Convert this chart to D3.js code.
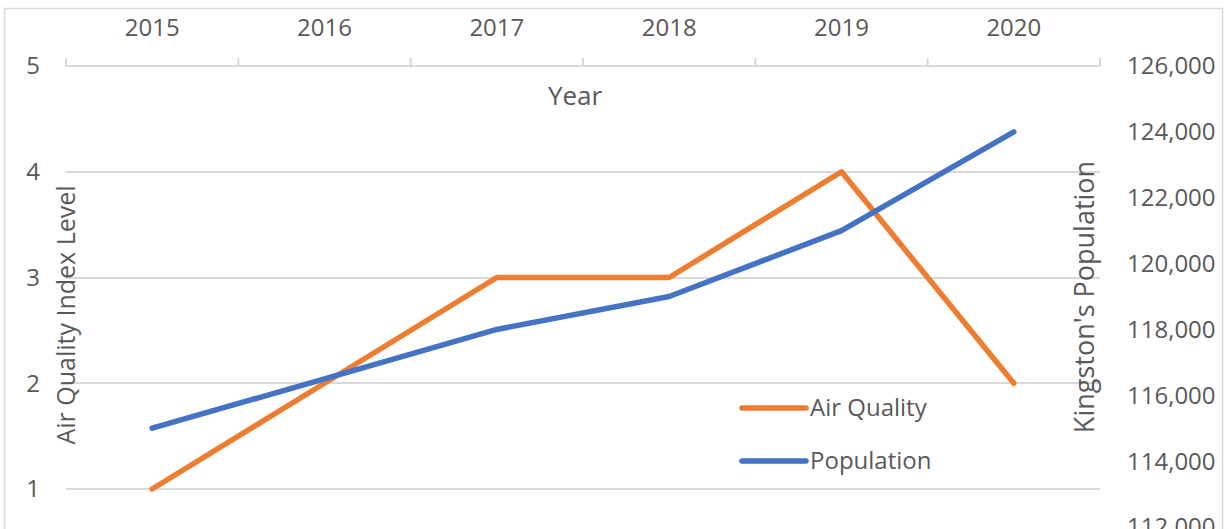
<!DOCTYPE html>
<html>
<head>
<meta charset="utf-8">
<script src="https://cdn.jsdelivr.net/npm/d3@7"></script>
<style>
  body { margin: 0; background: #fff; }
  svg text { font-family: "Open Sans", "Liberation Sans", sans-serif; fill: #595959; }
</style>
</head>
<body>
<svg id="chart" width="1229" height="529"></svg>
<script>
// data
var years      = [ '2015', '2016', '2017', '2018', '2019', '2020' ];
var airQuality = [ 1, 2, 3, 3, 4, 2 ];
var population = [ 115000, 116500, 118000, 119000, 121000, 124000 ];
var leftTicks  = [ 1, 2, 3, 4, 5 ];
var rightTicks = [ 112000, 114000, 116000, 118000, 120000, 122000, 124000, 126000 ];

var plot = { left: 66, right: 1100 };

var svg = d3.select('#chart');

// chart frame
svg.append('rect')
   .attr('x', 4.5).attr('y', 8.5)
   .attr('width', 1218).attr('height', 560)
   .attr('fill', '#fff').attr('stroke', '#d9d9d9').attr('stroke-width', 1.5);

var xScale = d3.scaleBand()
    .domain(years)
    .range([plot.left, plot.right])
    .padding(0);

var yLeft = d3.scaleLinear()
    .domain([0, 5])
    .range([594.75, 66]);

var yRight = d3.scaleLinear()
    .domain([112000, 126000])
    .range([527, 66]);

// gridlines
svg.append('g')
   .selectAll('line')
   .data(leftTicks.filter(function(d){ return d < 5; }))
   .enter()
   .append('line')
   .attr('x1', plot.left).attr('x2', plot.right)
   .attr('y1', function(d){ return Math.round(yLeft(d)); })
   .attr('y2', function(d){ return Math.round(yLeft(d)); })
   .attr('stroke', '#d9d9d9').attr('stroke-width', 2);

// top category axis
var xAxis = svg.append('g').attr('class', 'xAxis');
xAxis.append('line')
   .attr('x1', plot.left).attr('x2', plot.right)
   .attr('y1', yLeft(5)).attr('y2', yLeft(5))
   .attr('stroke', '#d9d9d9').attr('stroke-width', 2);
var bounds = years.map(function(d){ return xScale(d); }).concat([ plot.right ]);
xAxis.selectAll('.tick')
   .data(bounds)
   .enter()
   .append('line')
   .attr('x1', function(d){ return d; }).attr('x2', function(d){ return d; })
   .attr('y1', yLeft(5)).attr('y2', yLeft(5) - 8)
   .attr('stroke', '#d9d9d9').attr('stroke-width', 2);
xAxis.selectAll('text')
   .data(years)
   .enter()
   .append('text')
   .attr('x', function(d){ return xScale(d) + xScale.bandwidth() / 2; })
   .attr('y', 28)
   .attr('dy', '0.35em')
   .attr('text-anchor', 'middle')
   .style('font-size', '24px')
   .text(function(d){ return d; });

// left axis labels
svg.append('g')
   .selectAll('text')
   .data(leftTicks)
   .enter()
   .append('text')
   .attr('x', 33)
   .attr('y', function(d){ return yLeft(d); })
   .attr('dy', '0.35em')
   .attr('text-anchor', 'middle')
   .style('font-size', '24px')
   .text(function(d){ return d; });

// right axis labels
svg.append('g')
   .selectAll('text')
   .data(rightTicks)
   .enter()
   .append('text')
   .attr('x', 1127)
   .attr('y', function(d){ return yRight(d); })
   .attr('dy', '0.35em')
   .attr('text-anchor', 'start')
   .style('font-size', '24px')
   .text(d3.format(','));

// axis titles
svg.append('text')
   .attr('x', 575).attr('y', 96)
   .attr('dy', '0.35em')
   .attr('text-anchor', 'middle')
   .style('font-size', '26px')
   .text('Year');

svg.append('text')
   .attr('transform', 'translate(66,315) rotate(-90)')
   .attr('dy', '0.35em')
   .attr('text-anchor', 'middle')
   .style('font-size', '25px')
   .text('Air Quality Index Level');

svg.append('text')
   .attr('transform', 'translate(1085,297) rotate(-90)')
   .attr('dy', '0.35em')
   .attr('text-anchor', 'middle')
   .style('font-size', '27px')
   .text("Kingston's Population");

// lines
var xMid = function(i){ return xScale(years[i]) + xScale.bandwidth() / 2; };

var airLine = d3.line()
    .x(function(d, i){ return xMid(i); })
    .y(function(d){ return yLeft(d); });

var popLine = d3.line()
    .x(function(d, i){ return xMid(i); })
    .y(function(d){ return yRight(d); });

svg.append('path')
   .datum(airQuality)
   .attr('d', airLine)
   .attr('fill', 'none')
   .attr('stroke', '#ED7D31')
   .attr('stroke-width', 5.5)
   .attr('stroke-linecap', 'round')
   .attr('stroke-linejoin', 'round');

svg.append('path')
   .datum(population)
   .attr('d', popLine)
   .attr('fill', 'none')
   .attr('stroke', '#4472C4')
   .attr('stroke-width', 5.5)
   .attr('stroke-linecap', 'round')
   .attr('stroke-linejoin', 'round');

// legend
var legend = [
  { name: 'Air Quality', color: '#ED7D31', y: 408 },
  { name: 'Population',  color: '#4472C4', y: 461 }
];
var lg = svg.append('g').selectAll('g')
   .data(legend)
   .enter()
   .append('g');
lg.append('line')
   .attr('x1', 742).attr('x2', 806)
   .attr('y1', function(d){ return d.y; }).attr('y2', function(d){ return d.y; })
   .attr('stroke', function(d){ return d.color; })
   .attr('stroke-width', 5.5)
   .attr('stroke-linecap', 'round');
lg.append('text')
   .attr('x', 810)
   .attr('y', function(d){ return d.y; })
   .attr('dy', '0.35em')
   .style('font-size', '24px')
   .text(function(d){ return d.name; });
</script>
</body>
</html>
